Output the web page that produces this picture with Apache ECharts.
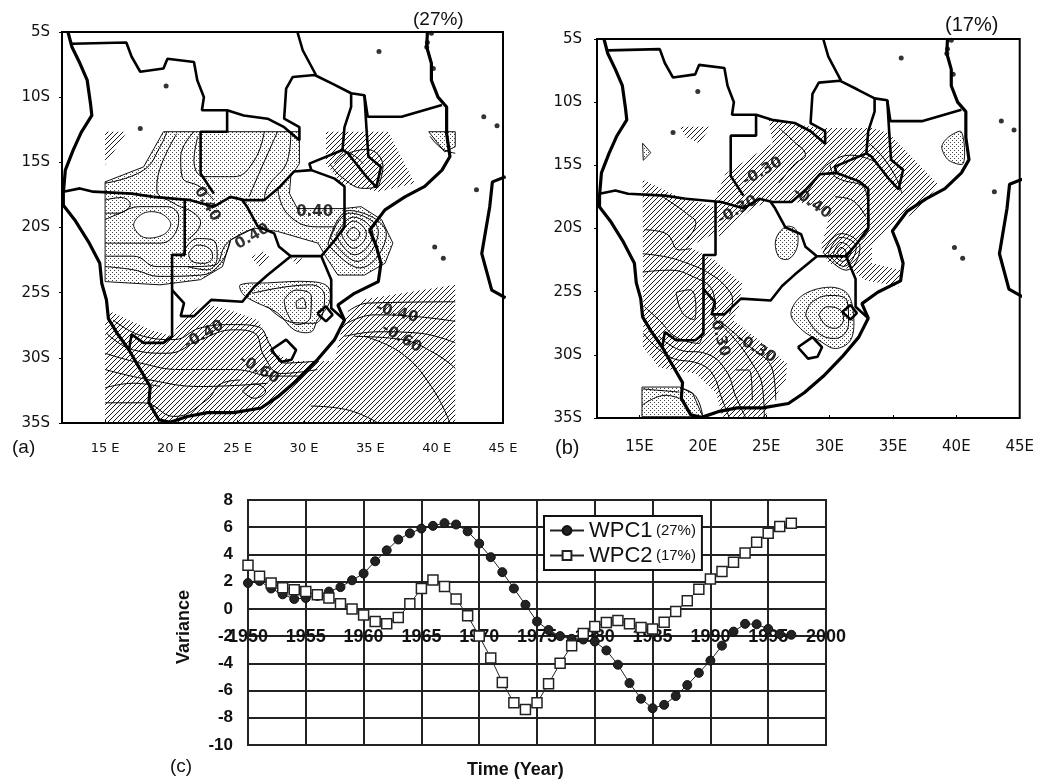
<!DOCTYPE html>
<html><head><meta charset="utf-8">
<style>html,body{margin:0;padding:0;background:#fff}#c{width:1037px;height:780px}</style>
<script src="https://cdn.jsdelivr.net/npm/echarts@6/dist/echarts.min.js"></script>
</head><body><div id="c"></div>
<script>
// ---- panel (c) data
const years = [1950,1951,1952,1953,1954,1955,1956,1957,1958,1959,1960,1961,1962,1963,1964,1965,1966,1967,1968,1969,1970,1971,1972,1973,1974,1975,1976,1977,1978,1979,1980,1981,1982,1983,1984,1985,1986,1987,1988,1989,1990,1991,1992,1993,1994,1995,1996,1997];
const wpc1 = [1.9,2.05,1.5,1.07,0.73,0.8,0.95,1.27,1.6,2.1,2.6,3.5,4.3,5.1,5.55,5.9,6.1,6.3,6.2,5.7,4.8,3.8,2.7,1.5,0.3,-0.93,-1.55,-2.0,-2.2,-2.25,-2.4,-3.05,-4.1,-5.45,-6.6,-7.3,-7.05,-6.4,-5.6,-4.7,-3.8,-2.7,-1.67,-1.1,-1.13,-1.47,-1.85,-1.9];
const wpc2 = [3.2,2.4,1.9,1.55,1.4,1.27,1.03,0.8,0.37,0,-0.44,-0.93,-1.1,-0.64,0.37,1.5,2.13,1.64,0.73,-0.5,-2.0,-3.6,-5.4,-6.9,-7.4,-6.9,-5.5,-4.0,-2.7,-1.8,-1.3,-1.0,-0.86,-1.1,-1.37,-1.47,-0.98,-0.2,0.6,1.45,2.2,2.74,3.43,4.1,4.9,5.55,6.05,6.3];
const legendShare = {WPC1:'(27%)', WPC2:'(17%)'};
// ---- map tick labels
const lonTicks = [15,20,25,30,35,40,45];
// ---- geography, degrees lon / lat
const coast = [[12.2,-5],[12.5,-6.15],[13.1,-7.4],[13.65,-8.7],[13.9,-10.5],[14,-11.4],[13.2,-12.7],[12.6,-14.05],[12,-15.6],[11.85,-17.4],[11.85,-18.3],[12.7,-19.4],[13.75,-21.1],[14.6,-22.75],[14.75,-24.3],[15.1,-25.55],[15.25,-27],[15.9,-28.1],[16.8,-29.4],[17.65,-30.9],[18.4,-32.2],[18.3,-33.45],[19.05,-34.75],[19.9,-34.95],[21.2,-34.5],[22.7,-34.2],[24.7,-34.2],[26.75,-33.85],[28,-33],[29.5,-31.7],[31,-30.15],[32.3,-28.6],[33.05,-27.1],[32.55,-25.95],[33.8,-25.05],[35.6,-24.15],[35.8,-22.75],[35.45,-21.45],[34.95,-20.2],[36.1,-18.65],[37.6,-17.65],[39.1,-16.85],[40.4,-15.6],[41,-14.55],[40.75,-12.8],[40.75,-10.75],[40.1,-10],[39.6,-8.7],[39.6,-7.4],[39.25,-6.15],[39.3,-5]];
const madagascar = [[45.2,-16.1],[44.2,-16.5],[44,-18.4],[43.4,-22],[44.15,-24.8],[45.2,-25.4]];
const borders = [
 [[12.5,-5.9],[16.6,-5.8],[17,-6.9],[17.65,-8.05],[19.4,-7.8],[19.7,-7.05],[21.7,-7.3],[21.95,-8.7],[22.45,-10],[22.3,-11],[24.2,-11],[25.45,-11.4],[27.25,-11.65],[28.5,-12.3],[29.65,-13.3],[29.65,-12.3],[28.5,-11.65],[28.65,-9.35],[29.15,-8.45],[30.8,-8.3],[32.2,-9],[33.55,-9.7],[34.55,-9.85],[34.8,-11.5],[37.35,-11.5],[40.4,-10.6]],
 [[24.2,-11],[24.2,-12.65],[22.2,-12.65],[22.2,-15.85],[23.2,-17.4]],
 [[29.5,-5],[29.9,-6.4],[30.9,-8.3]],
 [[33.55,-9.7],[33.55,-10.75],[33.05,-12.3],[32.9,-14.05],[30.4,-15.1],[30.55,-15.6],[29.25,-15.7],[28.2,-16.85],[27,-17.9],[25.5,-17.9],[24.45,-17.65],[23.2,-18.4],[21.45,-17.9],[18.65,-17.65]],
 [[34.55,-9.85],[34.7,-12.3],[34.85,-14.55],[35.8,-15.35],[35.45,-16.9],[34.7,-16.1],[33.3,-14.3],[32.9,-14.05]],
 [[11.85,-17.25],[13.1,-17],[14.1,-17.25],[17,-17.4],[18.65,-17.65]],
 [[21,-17.9],[21,-22.1],[20.05,-22.1],[20.05,-28.35],[19.4,-28.85],[17.9,-28.85],[17,-28.2],[16.8,-29.4]],
 [[20.05,-24.8],[20.95,-25.8],[20.7,-26.8],[21.7,-26.8],[23,-25.55],[25.35,-25.7],[26.25,-24.55],[27.25,-23.65],[29,-22.2],[31.3,-22.2],[32.05,-24],[32.05,-26.2],[33.05,-27.1]],
 [[29,-22.2],[28.1,-21.45],[27.75,-20.45],[26.5,-19.9],[25.7,-18.4],[25.35,-17.9]],
 [[31.3,-22.2],[32.3,-21],[33.05,-19.95],[33.05,-16.85],[32.3,-16.25],[30.55,-15.6]],
 [[31,-26.6],[31.65,-26.05],[32.15,-26.7],[31.65,-27.2],[31,-26.6]],
 [[27.5,-29.4],[28.65,-28.6],[29.4,-29.4],[29.05,-30.15],[28.3,-30.3],[27.5,-29.4]]
];
const islands = [[39.25,-6.15],[39.3,-5.8],[39.75,-7.8],[39.6,-5.1],[43.55,-11.5],[44.55,-12.2],[43,-17.1],[39.85,-21.5],[40.5,-22.35],[35.65,-6.5],[19.6,-9.15],[17.65,-12.4]];
// ---- panel (a) shaded regions
const aStipple = [
 [[19.4,-12.65],[29.65,-12.65],[29.65,-15.1],[29,-16.1],[28.9,-17.4],[29.5,-18.55],[32.95,-18.55],[34.3,-18.4],[35.85,-19.4],[36.7,-21.2],[36.1,-22.75],[34.55,-23.65],[32.55,-23.65],[31.65,-22.25],[31.05,-21.2],[28,-20.3],[26.25,-20.05],[24.45,-20.95],[23.85,-23],[22.2,-24],[19.15,-24.4],[15,-24.15],[15,-16.5],[17.9,-15.35]],
 [[25.2,-24.4],[27.25,-24.25],[30.5,-24.15],[31.8,-24.55],[31.9,-25.8],[31,-27.1],[30.55,-28],[29.25,-27.85],[28,-26.55],[26,-25.55],[25.35,-25.05]],
 [[39.4,-12.65],[41.4,-12.65],[41.4,-13.8],[40.6,-14.2]]
];
const aStippleSmooth = [0,0.35,0];
const aHoles = [[[17.15,-19.8],[17.9,-18.9],[19.15,-18.9],[19.95,-19.7],[19.4,-20.55],[17.9,-20.75]]];
const aHatch = [
 [[15.4,-26.45],[18.4,-27.85],[20.05,-28.35],[20.7,-27.1],[22.45,-25.8],[24.7,-26.45],[26.5,-27.1],[27.25,-28.35],[27.75,-29.65],[29.25,-30.25],[32.3,-30.25],[33.05,-26.85],[34.3,-25.55],[41.4,-24.4],[41.4,-35],[15,-35],[15,-27.35]],
 [[15,-12.65],[16.65,-12.65],[15,-15.2]],
 [[31.65,-12.65],[36.35,-12.65],[38.35,-16.6],[35.6,-17.25],[32.8,-16.6],[31.65,-15.1]],
 [[26,-22.25],[26.9,-21.85],[27.5,-22.35],[26.6,-23]],
 [[29,-22.35],[30.1,-22.35],[29.4,-22.8]]
];
const aContours = [
 [[15,-16.6],[17.9,-15.6],[19.15,-13.8],[19.65,-12.65]],
 [[20.4,-12.8],[19.2,-15.3],[18.9,-17.1],[20.2,-18.15],[21.7,-18.9],[22.2,-19.65],[21.2,-20.95]],
 [[21.7,-12.65],[20.7,-14.6],[20.8,-16.1],[22.2,-16.9],[23.2,-17.9]],
 [[22,-13],[21.7,-14.85],[22.45,-16.1],[24.7,-16.1],[26.25,-14.85],[27,-12.65]],
 [[28,-12.65],[26.5,-16.1],[25.85,-17.65]],
 [[29,-12.8],[28.75,-14.85],[27.25,-16.9],[27,-17.9]],
 [[15,-19.4],[15.9,-19],[17.65,-18.4],[19.65,-18.4],[20.55,-19.2],[20.4,-20.2],[19.15,-21.2],[17.15,-21.2],[15,-21.2]],
 [[15,-17.9],[16.2,-17.7],[16.9,-18.2],[15.9,-18.9],[15,-18.9]],
 [[21.3,-22],[21.95,-21.35],[22.85,-21.6],[23.1,-22.25],[22.45,-22.75],[21.55,-22.6],[21.3,-22]],
 [[20.7,-22.35],[21.95,-20.85],[23.2,-21],[23.45,-22.25],[22.7,-23.25],[21.2,-23]],
 [[15,-22.2],[17.15,-22.2],[18.9,-23],[21.2,-23],[23.2,-22.9],[24.2,-21.2],[26.25,-20.05]],
 [[15,-23],[17.15,-23.25],[19.15,-23.75],[22.2,-23.65],[23.7,-22.75],[24.45,-21]],
 [[28,-16.9],[28.75,-18.95],[31,-19.95],[32.3,-19.95]],
 [[33.2,-20.5],[33.7,-20],[34.2,-20.5],[33.7,-21],[33.2,-20.5]],
 [[32.8,-20.5],[33.7,-19.5],[34.7,-20.5],[33.7,-21.6],[32.8,-20.5]],
 [[32.4,-20.6],[33.7,-19.2],[35.2,-20.5],[33.8,-22.1],[32.4,-20.6]],
 [[32,-20.8],[33.4,-18.9],[35.6,-20.3],[34,-22.6],[32,-20.8]],
 [[31.8,-21.3],[33.4,-18.7],[36.2,-20.5],[34.2,-23.1],[31.8,-21.3]],
 [[33.3,-26.45],[34.8,-25.8],[41.4,-25.7]],
 [[33.05,-27.45],[35.3,-26.7],[38.6,-26.85],[41.4,-27.2]],
 [[33.05,-28.35],[35.6,-28],[38.6,-28.1],[41.4,-28.85]],
 [[33.8,-28.35],[37.35,-28.6],[39.85,-29.65],[41.4,-30.8]],
 [[34.55,-28.35],[37.35,-29.65],[39.6,-32.2],[41,-35]],
 [[30.5,-33.7],[33.3,-34],[35.6,-35]],
 [[15.6,-27.1],[17.9,-28.35],[20.2,-28.6],[22.2,-27.7],[24.7,-27.45],[26.5,-27.6],[27.5,-29.1],[28.5,-30.4],[31,-30.25]],
 [[15.1,-28.1],[17.15,-29.4],[19.7,-29.65],[22.2,-28.6],[24.7,-27.85],[26.25,-28.1],[27,-29.9],[28.25,-31.2],[31,-30.9]],
 [[15,-29.65],[17.65,-30.4],[20.7,-30.9],[24.7,-30.9],[27.75,-31.4],[29.8,-31.4]],
 [[15,-30.9],[18.4,-31.7],[22.2,-32.2],[27.25,-31.95]],
 [[15,-32.3],[17.15,-31.95],[19.15,-32.2]],
 [[15,-33.45],[17.9,-33.45],[20.2,-34.5],[22.7,-33.2],[23.7,-32],[25.2,-31.7]],
 [[25.35,-32.55],[26.25,-32],[27.1,-32.55],[26.25,-33.1],[25.35,-32.55]],
 [[26.1,-25.05],[30.5,-24.4],[31.55,-25.3],[30.8,-27.35],[29.25,-27.3],[27.25,-26.05]],
 [[28.5,-25.55],[29.4,-24.8],[30.55,-25.3],[30.5,-26.8],[29.5,-27.45],[28.75,-26.6],[28.5,-25.55]],
 [[29.4,-25.7],[29.9,-25.4],[30.15,-26.2],[29.5,-26.2],[29.4,-25.7]],
 [[32.3,-15.1],[33.3,-14.3],[34.45,-15.1]],
 [[31.95,-15.1],[32.8,-16.1],[34.55,-17],[35.6,-16.9]],
 [[33.3,-14.3],[34.7,-14],[35.95,-15.3],[35.6,-16.9]],
 [[39.5,-13],[40.4,-13.95],[41.4,-14.3]]
];
const aLabels = [[22.7,-18.2,'0.40',-60],[30.8,-18.85,'0.40',0],[26.1,-20.7,'0.40',30],[22.45,-28.25,'-0.40',30],[26.6,-30.9,'-0.60',-30],[37,-26.55,'-0.40',-15],[37.35,-28.5,'-0.60',-30]];
// ---- panel (b) shaded regions
const bStipple = [
 [[40.4,-12.35],[39.4,-12.75],[38.85,-13.55],[39.4,-14.6],[40.55,-14.85]],
 [[15.25,-13.25],[15.9,-14],[15.3,-14.6]],
 [[26.55,-19.85],[27.35,-20.1],[27.45,-21.45],[26.8,-22.4],[26,-22.25],[25.75,-20.9]],
 [[26.95,-26.75],[27.85,-25.3],[29.95,-24.65],[31.4,-25.15],[31.9,-27],[31.65,-28.85],[30.45,-29.5],[29.15,-28.85],[27.85,-28.05]],
 [[15.2,-32.55],[18.15,-32.55],[19.2,-33.05],[20,-34.9],[15.2,-34.9]]
];
const bStippleSmooth = [0.3,0,0.35,0.35,0];
const bHatch = [
 [[25.2,-11.4],[29.15,-12.05],[33.35,-12.05],[34.65,-12.45],[38.6,-16.55],[37,-18.55],[34.9,-19.85],[33.35,-21.45],[33.35,-22.75],[35.6,-23.3],[35.45,-24.6],[32.8,-24.1],[31.8,-23.3],[29.95,-22.75],[29.3,-21.45],[29.8,-19.85],[29.95,-18.8],[28.1,-18],[25.5,-17.75],[23.9,-18.4],[21.3,-20.65],[20.9,-17.75],[21.8,-15.65],[25.5,-13.25]],
 [[15.25,-16.15],[18.15,-17.5],[20.9,-18.3],[20.9,-20.4],[18.95,-21.45],[20.9,-22.5],[23.1,-24.35],[22.85,-26.2],[22.35,-27.25],[24.45,-28.85],[26.65,-30.7],[26.55,-32],[25.2,-34.1],[24.95,-34.9],[21.55,-34.9],[21.05,-33.05],[19.45,-31.5],[16.55,-31],[15.25,-29.35],[15.3,-28.05]],
 [[18.15,-11.95],[20.65,-11.95],[19.7,-13.25],[18.65,-12.75]]
];
const bContours = [
 [[28.1,-26.85],[28.65,-25.8],[30.2,-25.3],[31.4,-25.8],[31.5,-27.5],[30.45,-28.7],[29.15,-28.3],[28.1,-26.85]],
 [[29.15,-26.85],[29.8,-26.2],[30.7,-26.35],[31.1,-27.15],[30.45,-27.9],[29.7,-27.65],[29.15,-26.85]],
 [[26,-12.05],[27.05,-13],[28.1,-14.2],[27.3,-14.85],[26,-16.4]],
 [[30.05,-15],[30.45,-15.9],[32.85,-17],[33.1,-19.85],[32.55,-20.9]],
 [[27.85,-17.75],[28.9,-16.15],[29.95,-14.85],[31.75,-14.2],[33.85,-14.85]],
 [[33.1,-13.25],[34.15,-14.3],[35.2,-15.9],[35.7,-17.2]],
 [[30.45,-17.5],[31.75,-17.75],[32.85,-19.05]],
 [[30.6,-21.9],[30.9,-21.5],[31.3,-21.9],[30.9,-22.3],[30.6,-21.9]],
 [[30.3,-22],[30.9,-21.1],[31.7,-21.8],[31,-22.6],[30.3,-22]],
 [[29.9,-22],[30.9,-20.7],[32.1,-21.5],[31.1,-23],[29.9,-22]],
 [[29.5,-21.9],[30.9,-20.4],[32.4,-21.5],[31.3,-23.3],[29.5,-21.9]],
 [[16.85,-17.5],[18.7,-18.8],[19.45,-19.6],[18.7,-20.9]],
 [[15.4,-20.1],[17.1,-20.4],[18.15,-21.7],[19,-21.6]],
 [[15.25,-22],[17.1,-22.25],[18.9,-22.8],[20.5,-23.55],[21.8,-24.6],[22.35,-25.7],[22.1,-26.75]],
 [[15.25,-23.45],[17.35,-23.3],[19.2,-23.8],[20.75,-24.9],[21,-26.45]],
 [[17.9,-25.05],[18.95,-24.85],[19.45,-26.2],[19.3,-27.2],[18.4,-26.7],[17.9,-25.05]],
 [[15.4,-26.2],[16.55,-27.25],[17.9,-28.6],[19.7,-29.1],[20.1,-24.9]],
 [[15.3,-28.3],[17.35,-30.15],[19.7,-30.7],[20.75,-31.5],[21.55,-33.6],[22.1,-35]],
 [[16.55,-28.55],[18.15,-29.6],[20.25,-29.9],[21.8,-31.2],[22.6,-33.3],[23.4,-35]],
 [[21,-27.25],[22.35,-28.55],[23.9,-30.7],[24.7,-32.55],[24.85,-35]],
 [[21.55,-27.5],[23.4,-29.1],[25.5,-31.2],[25.75,-33.6]],
 [[22.6,-31.2],[23.65,-31.2],[23.9,-33.6]],
 [[15.2,-34],[17.1,-33.2],[18.15,-33.45]],
 [[15.25,-32.7],[18.15,-32.95]],
 [[18.4,-32.65],[19.45,-33.3],[20,-34.9]]
];
const bLabels = [[24.7,-15.5,'-0.30',30],[22.75,-18.55,'-0.30',30],[28.6,-18,'-0.40',-35],[21.3,-28.45,'-0.30',-75],[24.2,-29.5,'-0.30',-30]];

function patternCanvas(draw, size){
  const c = document.createElement('canvas'); c.width = c.height = size;
  draw(c.getContext('2d'), size); return {image:c, repeat:'repeat'};
}
const hatchFill = patternCanvas((g,s)=>{
  g.strokeStyle='#1a1a1a'; g.lineWidth=1;
  g.beginPath(); g.moveTo(-1,s+1); g.lineTo(s+1,-1); g.moveTo(-2,2); g.lineTo(2,-2); g.moveTo(s-2,s+2); g.lineTo(s+2,s-2); g.stroke();
},5);
const dotFill = patternCanvas((g)=>{
  g.fillStyle='#fff'; g.fillRect(0,0,4,4); g.fillStyle='#444';
  g.fillRect(0,0,1,1); g.fillRect(2,2,1,1);
},4);

function polygonSeries(idx, poly, fill, stroke, smooth){
  return {type:'custom', xAxisIndex:idx, yAxisIndex:idx, coordinateSystem:'cartesian2d', clip:true, silent:true, z:1,
    data:poly, encode:{x:0,y:1},
    renderItem(params, api){
      if(params.dataIndex!==0) return null;
      return {type:'polygon', shape:{points:poly.map(p=>api.coord(p)), smooth:smooth},
        style:{fill:fill, stroke:stroke?'#111':null, lineWidth:1}};
    }};
}
function lineSeries(idx, pts, width, smooth, z){
  return {type:'line', xAxisIndex:idx, yAxisIndex:idx, data:pts, showSymbol:false, symbol:'none', silent:true, clip:true, z:z,
    smooth:smooth, lineStyle:{color:'#000', width:width}};
}
function mapSeries(idx, stipple, stippleSmooth, hatch, holes, contours, labels){
  const out = [];
  stipple.forEach((p,i)=>out.push(polygonSeries(idx,p,dotFill,true,stippleSmooth[i])));
  holes.forEach(p=>out.push(polygonSeries(idx,p,'#fff',true,0.35)));
  hatch.forEach(p=>out.push(polygonSeries(idx,p,hatchFill,false,0)));
  contours.forEach(p=>out.push(lineSeries(idx,p,1,0.45,2)));
  out.push(lineSeries(idx,coast,3.2,false,3));
  out.push(lineSeries(idx,madagascar,3.2,false,3));
  borders.forEach(p=>out.push(lineSeries(idx,p,2.6,false,3)));
  out.push({type:'scatter', xAxisIndex:idx, yAxisIndex:idx, data:islands, symbolSize:5, silent:true, itemStyle:{color:'#000'}, z:3});
  out.push({type:'scatter', xAxisIndex:idx, yAxisIndex:idx, symbolSize:0, silent:true, z:4,
    data:labels.map(l=>({value:[l[0],l[1]], name:l[2],
      label:{show:true, position:'inside', formatter:l[2], rotate:l[3], fontFamily:'DejaVu Sans', fontSize:15, color:'#000', fontWeight:'bold'}}))});
  return out;
}
const mapX = (idx,min,suffix,size,margin)=>({type:'value', gridIndex:idx, min:min, max:45,
  splitLine:{show:false}, axisLine:{show:false},
  axisTick:{show:true, inside:true, length:3, customValues:lonTicks, lineStyle:{color:'#000'}},
  axisLabel:{show:true, customValues:lonTicks, formatter:v=>Math.round(v)+suffix, fontFamily:'DejaVu Sans', fontSize:size, color:'#111', margin:margin, hideOverlap:false, showMinLabel:true, showMaxLabel:true}});
const mapY = (idx,size,margin)=>({type:'value', gridIndex:idx, min:-35, max:-5, interval:5,
  splitLine:{show:false}, axisLine:{show:false},
  axisTick:{show:true, length:3, lineStyle:{color:'#000'}},
  axisLabel:{formatter:v=>Math.abs(v)+'S', fontFamily:'DejaVu Sans', fontSize:size, color:'#111', margin:margin}});
const frame = {show:true, borderColor:'#000', borderWidth:2, backgroundColor:'#fff'};
const txt = (text,left,top,size,extra)=>({type:'text', left, top, z:50, style:Object.assign({text, fontFamily:'Liberation Sans', fontSize:size, fill:'#111'},extra||{})});

const chart = echarts.init(document.getElementById('c'),null,{renderer:'canvas'});
chart.setOption({
  animation:false, backgroundColor:'#fff',
  grid:[
    Object.assign({left:62, top:32, width:441, height:391},frame),
    Object.assign({left:597, top:39, width:426, height:379},frame),
    Object.assign({left:248, top:500, width:578, height:245},frame,{borderColor:'#222'})
  ],
  xAxis:[ mapX(0,11.75,' E',13,19), mapX(1,11.65,'E',15,22),
    {type:'value', gridIndex:2, min:1950, max:2000, interval:5,
     axisLine:{show:false, onZero:false}, axisTick:{show:false},
     splitLine:{show:true, lineStyle:{color:'#222', width:2}},
     axisLabel:{margin:-117, fontFamily:'Liberation Sans', fontWeight:'bold', fontSize:18, color:'#111', showMinLabel:true, showMaxLabel:true, formatter:v=>String(v)}}],
  yAxis:[ mapY(0,15,12), mapY(1,15,15),
    {type:'value', gridIndex:2, min:-10, max:8, interval:2,
     axisLine:{show:false, onZero:false}, axisTick:{show:false},
     splitLine:{show:true, lineStyle:{color:'#222', width:2}},
     axisLabel:{margin:15, fontFamily:'Liberation Sans', fontWeight:'bold', fontSize:17, color:'#111'}}],
  legend:{data:['WPC1','WPC2'], orient:'vertical', left:544, top:516, padding:[2,6,2,5], itemGap:0,
    itemWidth:34, itemHeight:11, backgroundColor:'#fff', borderColor:'#111', borderWidth:2, z:20,
    formatter:n=>'{n|'+n+'} {p|'+legendShare[n]+'}',
    textStyle:{rich:{n:{fontFamily:'Liberation Sans', fontSize:22, color:'#111', height:25, lineHeight:25},
                     p:{fontFamily:'Liberation Sans', fontSize:15, color:'#111', height:25, lineHeight:25}}}},
  series:[].concat(
    mapSeries(0,aStipple,aStippleSmooth,aHatch,aHoles,aContours,aLabels),
    mapSeries(1,bStipple,bStippleSmooth,bHatch,[],bContours,bLabels),
    [{name:'WPC1', type:'line', xAxisIndex:2, yAxisIndex:2, data:years.map((y,i)=>[y,wpc1[i]]),
      symbol:'circle', symbolSize:9, showSymbol:true, showAllSymbol:true, lineStyle:{color:'#222', width:1}, itemStyle:{color:'#222', borderColor:'#111', borderWidth:1}, z:5},
     {name:'WPC2', type:'line', xAxisIndex:2, yAxisIndex:2, data:years.map((y,i)=>[y,wpc2[i]]),
      symbol:'rect', symbolSize:10, showSymbol:true, showAllSymbol:true, lineStyle:{color:'#222', width:1}, itemStyle:{color:'#fff', borderColor:'#222', borderWidth:1.5}, z:6}]
  ),
  graphic:[
    txt('(a)',12,438,19), txt('(b)',555,438,20), txt('(c)',170,757,19),
    txt('(27%)',413,10,19), txt('(17%)',945,15,20),
    txt('Time (Year)',467,761,18,{fontWeight:'bold'}),
    {type:'text', left:175, top:590, z:50, rotation:Math.PI/2, originX:0, originY:0,
     style:{text:'Variance', fontFamily:'Liberation Sans', fontSize:18, fontWeight:'bold', fill:'#111'}}
  ]
});
</script></body></html>
